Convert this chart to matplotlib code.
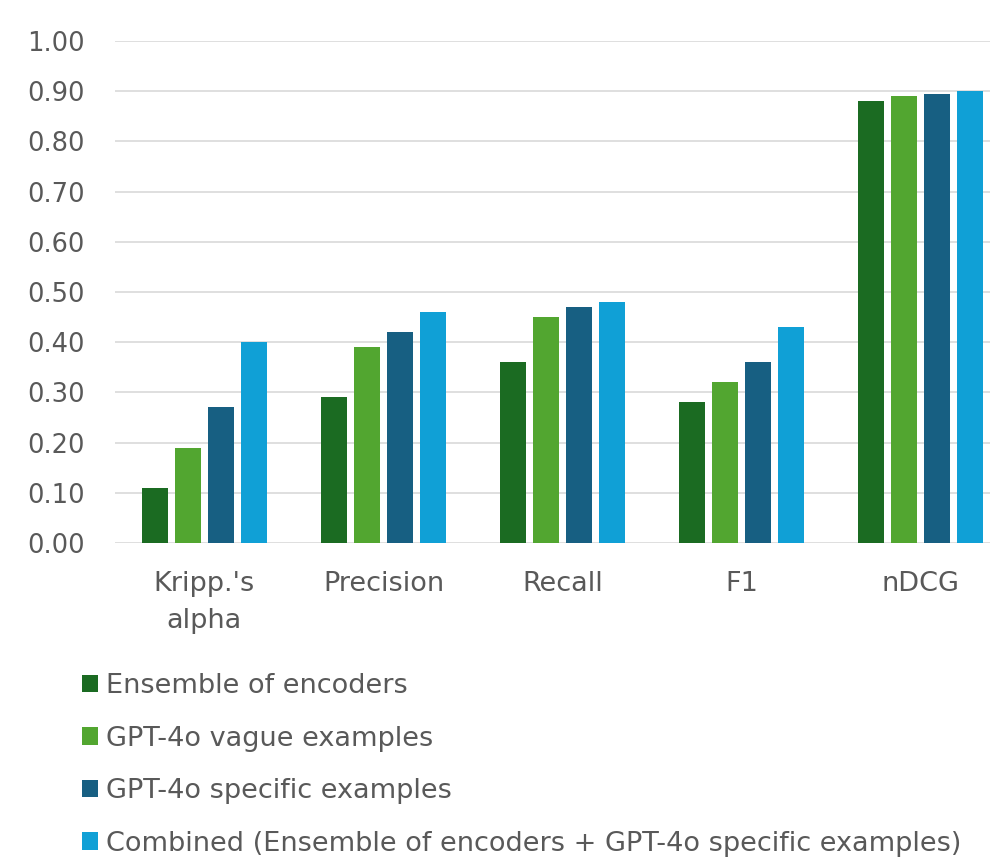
import matplotlib.pyplot as plt
from matplotlib.patches import Patch
import numpy as np

metrics = ["Kripp.'s\nalpha", "Precision", "Recall", "F1", "nDCG"]
series_names = [
    "Ensemble of encoders",
    "GPT-4o vague examples",
    "GPT-4o specific examples",
    "Combined (Ensemble of encoders + GPT-4o specific examples)",
]
ensemble = [0.11, 0.29, 0.36, 0.28, 0.88]
gpt_vague = [0.19, 0.39, 0.45, 0.32, 0.89]
gpt_specific = [0.27, 0.42, 0.47, 0.36, 0.895]
combined = [0.40, 0.46, 0.48, 0.43, 0.90]
colors = ['#1B6B22', '#52A630', '#175F82', '#10A0D6']

plt.rcParams['font.family'] = ['DejaVu Sans']
text_color = '#595959'

fig = plt.figure(figsize=(9.9, 8.6), dpi=100)
ax = fig.add_axes([115 / 990, 1 - 543 / 860, 895 / 990, 502 / 860])

x = np.arange(len(metrics))
pitch = 0.183
width = 0.145
all_series = [ensemble, gpt_vague, gpt_specific, combined]
for i, vals in enumerate(all_series):
    ax.bar(x + (i - 1.5) * pitch, vals, width, color=colors[i], zorder=3)

ax.set_xlim(-0.5, len(metrics) - 0.5)
ax.set_ylim(0, 1.0)
ax.set_yticks(np.arange(0, 1.01, 0.1))
ax.set_yticklabels([f"{v:.2f}" for v in np.arange(0, 1.01, 0.1)])
ax.set_xticks(x)
ax.set_xticklabels(metrics)
ax.grid(axis='y', color='#D9D9D9', linewidth=1.2, zorder=0)
for s in ax.spines.values():
    s.set_visible(False)
ax.tick_params(axis='both', length=0, labelcolor=text_color)
ax.tick_params(axis='y', pad=22, labelsize=18.5)
ax.tick_params(axis='x', pad=20, labelsize=19.5)
for lbl in ax.get_xticklabels():
    lbl.set_linespacing(1.55)

handles = [Patch(facecolor=c) for c in colors]
fig.legend(handles, series_names, loc='upper left',
           bbox_to_anchor=(82 / 990, 1 - 673 / 860), frameon=False,
           fontsize=19.5, labelcolor=text_color, handlelength=0.6,
           handleheight=0.6, handletextpad=0.3, labelspacing=0.98,
           borderpad=0, borderaxespad=0)

plt.savefig('out.png', dpi=100)
